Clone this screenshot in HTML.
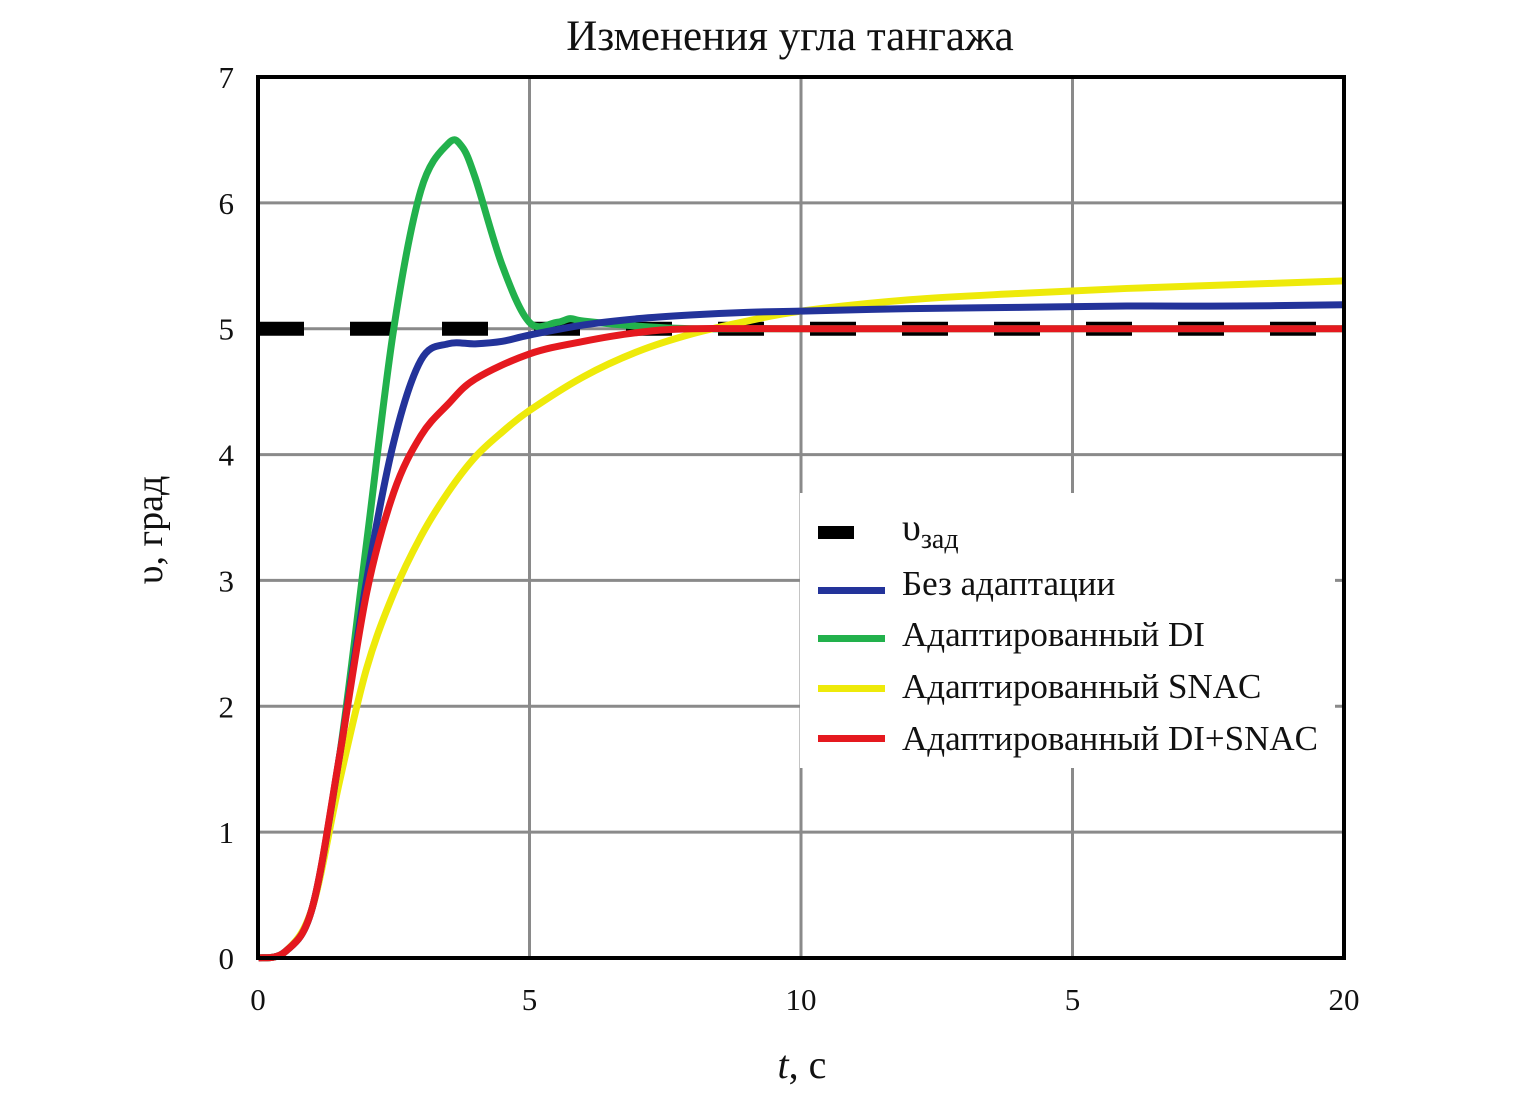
<!DOCTYPE html>
<html><head><meta charset="utf-8"><style>
body{margin:0;background:#fff;}
svg text{font-family:"Liberation Serif",serif;fill:#111;}
</style></head><body>
<svg width="1535" height="1104" viewBox="0 0 1535 1104">
<text x="790" y="50" font-size="43" text-anchor="middle">Изменения угла тангажа</text>
<g id="grid"></g>
<g id="ticks"></g>
<g id="series"></g>
<rect x="800" y="493" width="535" height="275" fill="#fff"/>
<rect x="258" y="77" width="1086" height="881" fill="none" stroke="#000" stroke-width="4"/>
<g>
 <g><rect x="818" y="526" width="36" height="13" fill="#000"/><text x="902" y="540" font-size="38">υ<tspan font-size="28" dy="8">зад</tspan></text></g>
 <g><rect x="818" y="587" width="67" height="7" fill="#23339a"/><text x="902" y="595" font-size="35">Без адаптации</text></g>
 <g><rect x="818" y="635" width="67" height="7" fill="#22b14c"/><text x="902" y="646" font-size="35">Адаптированный DI</text></g>
 <g><rect x="818" y="685" width="67" height="7" fill="#eeea0a"/><text x="902" y="698" font-size="35">Адаптированный SNAC</text></g>
 <g><rect x="818" y="735" width="67" height="7" fill="#e5191f"/><text x="902" y="750" font-size="35">Адаптированный DI+SNAC</text></g>
</g>
<text x="802" y="1078" font-size="40" text-anchor="middle"><tspan font-style="italic">t</tspan>, с</text>
<text transform="translate(162,530) rotate(-90)" font-size="38" text-anchor="middle">υ, град</text>
</svg>
<script>
const xTicks=[0,5,10,15,20];
const xTickLabels=["0","5","10","5","20"];
const yTicks=[0,1,2,3,4,5,6,7];
const tBlue=[0,0.5,1,1.5,2,2.5,3,3.5,4,4.5,5,6,7,8,9,10,12,14,16,18,20];
const vBlue=[0,0.05,0.4,1.6,3.0,4.1,4.75,4.88,4.88,4.9,4.95,5.03,5.08,5.11,5.13,5.14,5.16,5.17,5.18,5.18,5.19];
const tGreen=[0,0.5,1,1.5,2,2.5,3,3.5,3.75,4,4.5,5,5.5,5.75,6,7,8,10,20];
const vGreen=[0,0.05,0.4,1.6,3.3,5.0,6.1,6.47,6.45,6.2,5.5,5.05,5.05,5.08,5.06,5.02,5.0,5.0,5.0];
const tYellow=[0,0.5,1,1.5,2,2.5,3,3.5,4,4.5,5,6,7,8,9,10,12,14,16,18,20];
const vYellow=[0,0.05,0.4,1.4,2.3,2.9,3.35,3.7,3.98,4.18,4.35,4.62,4.82,4.96,5.06,5.14,5.23,5.28,5.32,5.35,5.38];
const tRed=[0,0.5,1,1.5,2,2.5,3,3.5,4,5,6,7,8,10,20];
const vRed=[0,0.05,0.4,1.6,2.9,3.7,4.15,4.4,4.6,4.8,4.9,4.97,5.0,5.0,5.0];
const setpoint=[5];
const NS="http://www.w3.org/2000/svg";
const X=t=>258+t*(1086/20), Y=v=>958-v*(881/7);
function mk(tag,attrs,parent){const e=document.createElementNS(NS,tag);for(const k in attrs)e.setAttribute(k,attrs[k]);parent.appendChild(e);return e;}
const grid=document.getElementById('grid'),ticks=document.getElementById('ticks'),series=document.getElementById('series');
xTicks.forEach((t,i)=>{
 if(i>0&&i<xTicks.length-1){const l=mk('line',{x1:X(t),x2:X(t),y1:77,y2:958,stroke:'#8a8a8a','stroke-width':3},grid);
 
 }
 const tx=mk('text',{x:X(t),y:1010,'font-size':31,'text-anchor':'middle'},ticks);tx.textContent=xTickLabels[i];
 
 
});
yTicks.forEach(v=>{
 if(v>0&&v<7){const l=mk('line',{x1:258,x2:1344,y1:Y(v),y2:Y(v),stroke:'#8a8a8a','stroke-width':3},grid);
 
 }
 const tx=mk('text',{x:234,y:Y(v)+11,'font-size':31,'text-anchor':'end'},ticks);tx.textContent=String(v);
 
 
});
function smooth(ts,vs){const p=ts.map((t,i)=>[X(t),Y(vs[i])]);let d=`M${p[0][0]},${p[0][1]}`;
 for(let i=0;i<p.length-1;i++){const p0=p[Math.max(0,i-1)],p1=p[i],p2=p[i+1],p3=p[Math.min(p.length-1,i+2)];
 d+=` C${p1[0]+(p2[0]-p0[0])/6},${p1[1]+(p2[1]-p0[1])/6} ${p2[0]-(p3[0]-p1[0])/6},${p2[1]-(p3[1]-p1[1])/6} ${p2[0]},${p2[1]}`;}return d;}
const sp=mk('line',{x1:X(0),x2:X(20),y1:Y(setpoint[0]),y2:Y(setpoint[0]),stroke:'#000','stroke-width':14,'stroke-dasharray':'46 46'},series);


const gp=mk('path',{d:smooth(tGreen,vGreen),fill:'none',stroke:'#22b14c','stroke-width':7},series);


const yp=mk('path',{d:smooth(tYellow,vYellow),fill:'none',stroke:'#eeea0a','stroke-width':7},series);


const bp=mk('path',{d:smooth(tBlue,vBlue),fill:'none',stroke:'#23339a','stroke-width':7},series);


const rp=mk('path',{d:smooth(tRed,vRed),fill:'none',stroke:'#e5191f','stroke-width':7},series);


</script>
</body></html>
